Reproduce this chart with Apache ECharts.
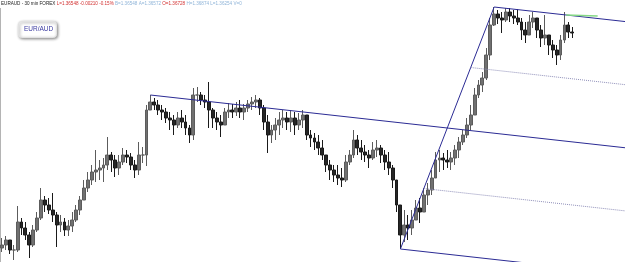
<!DOCTYPE html>
<html style="height: 100%">
  <head>
    <meta charset="utf-8" />
    <title>EUR/AUD</title>
    <script src="https://cdn.jsdelivr.net/npm/echarts@6/dist/echarts.min.js"></script>
  </head>
  <body style="height: 100%; margin: 0; background: #fff">
    <div id="main" style="width: 625px; height: 262px"></div>
    <script type="text/javascript">
      // prix (une barre par pas d'index)
      var firstOpen = 1.3229;
      var closes = [
        1.3235, 1.3245, 1.3225, 1.3225, 1.3281, 1.3269, 1.3255, 1.3235, 1.3265, 1.3289,
        1.3325, 1.3315, 1.3305, 1.3295, 1.3275, 1.3281, 1.3265, 1.3273, 1.3285, 1.3305,
        1.3325, 1.3349, 1.3365, 1.3381, 1.3385, 1.3389, 1.3395, 1.3415, 1.3405, 1.3389,
        1.3401, 1.3415, 1.3411, 1.3395, 1.3385, 1.3415, 1.3415, 1.3505, 1.3521, 1.3515,
        1.3505, 1.3501, 1.3489, 1.3485, 1.3475, 1.3489, 1.3481, 1.3469, 1.3455, 1.3535,
        1.3535, 1.3525, 1.3521, 1.3505, 1.3489, 1.3481, 1.3475, 1.3501, 1.3505, 1.3501,
        1.3509, 1.3501, 1.3509, 1.3517, 1.3521, 1.3525, 1.3509, 1.3481, 1.3455, 1.3465,
        1.3475, 1.3485, 1.3489, 1.3481, 1.3489, 1.3475, 1.3485, 1.3495, 1.3455, 1.3449,
        1.3441, 1.3429, 1.3415, 1.3395, 1.3385, 1.3375, 1.3369, 1.3365, 1.3401, 1.3415,
        1.3445, 1.3429, 1.3421, 1.3415, 1.3409, 1.3425, 1.3429, 1.3415, 1.3401, 1.3389,
        1.3365, 1.3315, 1.3255, 1.3275, 1.3269, 1.3285, 1.3309, 1.3301, 1.3335, 1.3345,
        1.3369, 1.3405, 1.3409, 1.3405, 1.3401, 1.3409, 1.3425, 1.3441, 1.3455, 1.3475,
        1.3495, 1.3535, 1.3555, 1.3569, 1.3615, 1.3675, 1.3697, 1.3689, 1.3685, 1.3701,
        1.3693, 1.3689, 1.3681, 1.3665, 1.3655, 1.3681, 1.3689, 1.3665, 1.3649, 1.3655,
        1.3635, 1.3625, 1.3615, 1.3645, 1.3675, 1.3661, 1.3659
      ];
      var highs = [
        1.3249, 1.3253, 1.3245, 1.3235, 1.3313, 1.3289, 1.3281, 1.3261, 1.3275, 1.3301,
        1.3349, 1.3333, 1.3329, 1.3339, 1.3301, 1.3295, 1.3289, 1.3285, 1.3301, 1.3315,
        1.3333, 1.3365, 1.3381, 1.3395, 1.3425, 1.3405, 1.3409, 1.3451, 1.3421, 1.3415,
        1.3415, 1.3429, 1.3425, 1.3419, 1.3405, 1.3441, 1.3431, 1.3515, 1.3535, 1.3529,
        1.3525, 1.3515, 1.3509, 1.3501, 1.3495, 1.3501, 1.3505, 1.3495, 1.3475, 1.3549,
        1.3551, 1.3541, 1.3535, 1.3561, 1.3509, 1.3501, 1.3495, 1.3509, 1.3519, 1.3517,
        1.3521, 1.3525, 1.3517, 1.3525, 1.3531, 1.3535, 1.3529, 1.3515, 1.3495, 1.3475,
        1.3489, 1.3501, 1.3505, 1.3501, 1.3505, 1.3501, 1.3499, 1.3505, 1.3495, 1.3465,
        1.3459, 1.3455, 1.3445, 1.3415, 1.3405, 1.3395, 1.3395, 1.3389, 1.3415, 1.3425,
        1.3465, 1.3455, 1.3445, 1.3435, 1.3425, 1.3441, 1.3445, 1.3435, 1.3425, 1.3421,
        1.3395, 1.3365, 1.3315, 1.3305, 1.3295, 1.3305, 1.3325, 1.3329, 1.3349, 1.3359,
        1.3385, 1.3421, 1.3425, 1.3419, 1.3425, 1.3421, 1.3435, 1.3451, 1.3465, 1.3489,
        1.3515, 1.3549, 1.3565, 1.3581, 1.3629, 1.3689, 1.3711, 1.3705, 1.3701, 1.3709,
        1.3709, 1.3705, 1.3707, 1.3689, 1.3681, 1.3695, 1.3701, 1.3685, 1.3675, 1.3695,
        1.3655, 1.3645, 1.3635, 1.3655, 1.3701, 1.3681, 1.3671
      ];
      var lows = [
        1.3221, 1.3225, 1.3217, 1.3205, 1.3221, 1.3255, 1.3245, 1.3209, 1.3231, 1.3261,
        1.3285, 1.3301, 1.3297, 1.3281, 1.3231, 1.3261, 1.3253, 1.3253, 1.3261, 1.3281,
        1.3295, 1.3325, 1.3341, 1.3355, 1.3361, 1.3365, 1.3361, 1.3385, 1.3381, 1.3371,
        1.3375, 1.3395, 1.3399, 1.3385, 1.3369, 1.3375, 1.3399, 1.3393, 1.3505, 1.3505,
        1.3495, 1.3485, 1.3479, 1.3465, 1.3455, 1.3469, 1.3469, 1.3455, 1.3439, 1.3445,
        1.3521, 1.3515, 1.3509, 1.3469, 1.3469, 1.3465, 1.3451, 1.3475, 1.3489, 1.3489,
        1.3493, 1.3489, 1.3485, 1.3501, 1.3505, 1.3509, 1.3495, 1.3465, 1.3419, 1.3439,
        1.3445, 1.3455, 1.3469, 1.3465, 1.3461, 1.3455, 1.3465, 1.3469, 1.3445, 1.3431,
        1.3425, 1.3415, 1.3405, 1.3381, 1.3365, 1.3361, 1.3355, 1.3351, 1.3361, 1.3395,
        1.3409, 1.3415, 1.3405, 1.3401, 1.3389, 1.3405, 1.3411, 1.3399, 1.3385, 1.3375,
        1.3349, 1.3301, 1.3227, 1.3241, 1.3245, 1.3255, 1.3285, 1.3279, 1.3301, 1.3315,
        1.3335, 1.3369, 1.3381, 1.3385, 1.3389, 1.3385, 1.3395, 1.3409, 1.3435, 1.3449,
        1.3465, 1.3495, 1.3529, 1.3541, 1.3565, 1.3605, 1.3673, 1.3677, 1.3659, 1.3681,
        1.3681, 1.3677, 1.3675, 1.3645, 1.3639, 1.3661, 1.3669, 1.3649, 1.3631, 1.3635,
        1.3615, 1.3609, 1.3595, 1.3605, 1.3639, 1.3649, 1.3649
      ];
      // points pivots de la fourchette d'Andrews (index de barre)
      var pivotHigh1 = 38;
      var pivotHigh2 = 126;
      var pivotLow = 102;
      var greenLine = [[144.4, 1.3695], [152.5, 1.3693]];

      var xMax = 159.5;
      var candles = [];
      for (var i = 0; i < closes.length; i++) {
        var open = i === 0 ? firstOpen : closes[i - 1];
        candles.push([i, open, closes[i], lows[i], highs[i]]);
      }

      var p1 = [pivotHigh1, highs[pivotHigh1]];
      var p2 = [pivotHigh2, highs[pivotHigh2]];
      var p3 = [pivotLow, lows[pivotLow]];
      var mid = [(p2[0] + p3[0]) / 2, (p2[1] + p3[1]) / 2];
      var slope = (mid[1] - p1[1]) / (mid[0] - p1[0]);
      function toEdge(p) {
        return [[p[0], p[1]], [xMax, p[1] + slope * (xMax - p[0])]];
      }
      var midUp = [(p2[0] + mid[0]) / 2, (p2[1] + mid[1]) / 2];
      var midDown = [(mid[0] + p3[0]) / 2, (mid[1] + p3[1]) / 2];

      var blue = "#2b2b94";
      function fork(data, color, type) {
        return {
          type: "line",
          data: data,
          symbol: "none",
          silent: true,
          lineStyle: { color: color, width: 1, type: type || "solid" },
          z: 3,
        };
      }

      var myChart = echarts.init(document.getElementById("main"));
      var option = {
        animation: false,
        grid: { left: 0, right: 0, top: 0, bottom: 0 },
        xAxis: { type: "value", min: -0.5, max: xMax, show: false },
        yAxis: { type: "value", min: 1.3201, max: 1.3725, show: false },
        series: [
          {
            type: "candlestick",
            data: candles,
            encode: { x: 0, y: [1, 2, 3, 4] },
            barWidth: 3.4,
            itemStyle: {
              color: "#707070",
              borderColor: "#5c5c5c",
              color0: "#262626",
              borderColor0: "#1a1a1a",
              borderWidth: 1,
            },
            z: 2,
          },
          fork(toEdge(p1), blue),
          fork(toEdge(p2), blue),
          fork(toEdge(p3), blue),
          fork([p2, p3], blue),
          fork(toEdge(midUp), "#8e8eb8", "dotted"),
          fork(toEdge(midDown), "#8e8eb8", "dotted"),
          {
            type: "line",
            data: greenLine,
            symbol: "none",
            silent: true,
            lineStyle: { color: "#86d986", width: 1.5 },
          },
        ],
        graphic: [
          {
            type: "line",
            shape: { x1: 0.5, y1: 8, x2: 0.5, y2: 262 },
            style: { stroke: "#b4b4b4", lineWidth: 1 },
          },
          {
            type: "text",
            left: 1,
            top: 1,
            style: {
              text:
                "{k|EURAUD - 30 min FOREX} {r|L=1.36548 -0.00210 -0.15%} {b|B=1.36548 A=1.36572} {r|O=1.36728} {b|H=1.36874 L=1.36254 V=0}",
              font: "4.6px Arial",
              rich: {
                k: { fill: "#222", fontSize: 4.6 },
                r: { fill: "#d23030", fontSize: 4.6 },
                b: { fill: "#8fb4d8", fontSize: 4.6 },
              },
            },
          },
          {
            type: "rect",
            left: 18,
            top: 21,
            shape: { width: 38, height: 16, r: 3 },
            style: {
              fill: "#fff",
              stroke: "#e2e2e2",
              shadowBlur: 3,
              shadowOffsetX: 1,
              shadowOffsetY: 1,
              shadowColor: "rgba(0,0,0,0.45)",
            },
            z: 10,
          },
          {
            type: "text",
            left: 24,
            top: 26,
            style: {
              text: "EUR/AUD",
              font: "6.5px Arial",
              fill: "#3a3aa0",
            },
            z: 11,
          },
        ],
      };
      myChart.setOption(option);
    </script>
  </body>
</html>
